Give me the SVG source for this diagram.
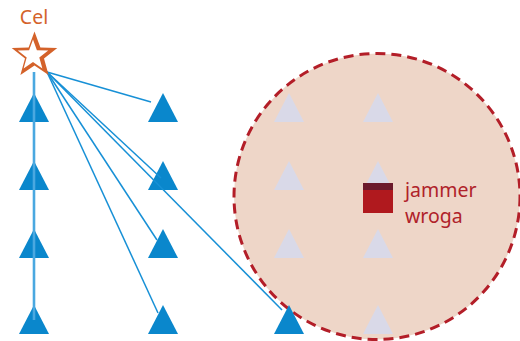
<svg xmlns="http://www.w3.org/2000/svg" width="520" height="341" viewBox="0 0 520 341">
  <style>
    .unit { fill: #0a87cc; }
    .ghost { fill: #d9d9e8; }
    .link { stroke: #1790d6; stroke-width: 1.5; fill: none; }
    .chain { stroke: #4aa8e0; stroke-width: 2.6; fill: none; }
    .lbl { font-family: "Noto Sans", "Liberation Sans", sans-serif; font-size: 19.5px; }
  </style>
  <defs>
    <polygon id="tri" points="0,-14.5 15,14.5 -15,14.5"/>
  </defs>
  <rect width="520" height="341" fill="#ffffff"/>

  <!-- jamming zone -->
  <g id="zone">
    <circle cx="377" cy="196.5" r="143" fill="#eed6c8" stroke="#b31e28" stroke-width="3" stroke-dasharray="10 6"/>
  </g>

  <!-- jammed units inside the zone -->
  <g id="jammed">
    <use href="#tri" class="ghost" x="289" y="107.5"/>
    <use href="#tri" class="ghost" x="378" y="107.5"/>
    <use href="#tri" class="ghost" x="289" y="175.5"/>
    <use href="#tri" class="ghost" x="378" y="175.5"/>
    <use href="#tri" class="ghost" x="289" y="243.5"/>
    <use href="#tri" class="ghost" x="378" y="243.5"/>
    <use href="#tri" class="ghost" x="378" y="319.5"/>
  </g>

  <!-- units -->
  <g id="col1">
    <use href="#tri" class="unit" x="34" y="107.5"/>
    <use href="#tri" class="unit" x="34" y="175.5"/>
    <use href="#tri" class="unit" x="34" y="243.5"/>
    <use href="#tri" class="unit" x="34" y="319.5"/>
  </g>
  <g id="col2">
    <use href="#tri" class="unit" x="163" y="107.5"/>
    <use href="#tri" class="unit" x="163" y="175.5"/>
    <use href="#tri" class="unit" x="163" y="243.5"/>
    <use href="#tri" class="unit" x="163" y="319.5"/>
  </g>
  <g id="col3">
    <use href="#tri" class="unit" x="289" y="319.5"/>
  </g>

  <!-- connectors -->
  <g id="connectors">
    <line class="chain" x1="34" y1="72" x2="34" y2="320"/>
    <line class="link" x1="47" y1="72" x2="151" y2="102"/>
    <line class="link" x1="47" y1="72" x2="161" y2="178"/>
    <line class="link" x1="47" y1="72" x2="282" y2="310"/>
    <line class="link" x1="47" y1="72" x2="157" y2="240"/>
    <line class="link" x1="47" y1="72" x2="158" y2="313"/>
  </g>

  <!-- target -->
  <g id="target">
    <polygon points="34.5,31.5 40.4,47.4 57.3,48.1 44,58.6 48.6,74.9 34.5,65.5 20.4,74.9 25,58.6 11.7,48.1 28.6,47.4" fill="#d4622a"/>
    <polygon points="33,39.5 36.9,50.2 48.2,50.6 39.3,57.5 42.4,68.4 33,62.1 23.6,68.4 26.7,57.5 17.8,50.6 29.1,50.2" fill="#ffffff"/>
    <text class="lbl" x="34" y="24" text-anchor="middle" fill="#d4622a">Cel</text>
  </g>

  <!-- enemy jammer -->
  <g id="jammer">
    <rect x="363" y="183" width="30" height="30" fill="#b0191e"/>
    <rect x="363" y="183" width="30" height="7" fill="#6b1a2c"/>
    <text class="lbl" fill="#b0222a"><tspan x="405" y="197">jammer</tspan><tspan x="405" y="223">wroga</tspan></text>
  </g>
</svg>
